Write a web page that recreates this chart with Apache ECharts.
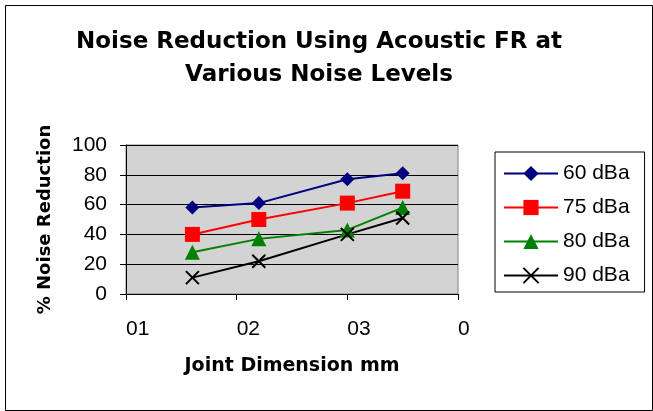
<!DOCTYPE html>
<html><head><meta charset="utf-8">
<script src="https://cdn.jsdelivr.net/npm/echarts@6/dist/echarts.min.js"></script>
<style>html,body{margin:0;padding:0;background:#fff}#c{width:653px;height:411px}</style>
</head><body><div id="c"></div>
<script>
const xTicks = [10, 20, 30, 40];
const xTickLabels = ["01", "02", "03", "0"];
const xValues = [16, 22, 30, 35];
const s60 = [58, 61, 77, 81];
const s75 = [40, 50, 61, 69];
const s80 = [28, 37, 43, 58];
const s90 = [11, 22, 40, 51];
const seriesNames = ["60 dBa", "75 dBa", "80 dBa", "90 dBa"];

const pair = arr => xValues.map((x, i) => [x, arr[i]]);
const crossPath = 'path://M0,0L10,10M10,0L0,10';

const chart = echarts.init(document.getElementById('c'));
chart.setOption({
  animation: false,
  backgroundColor: '#fff',
  title: {
    text: 'Noise Reduction Using Acoustic FR at\nVarious Noise Levels',
    left: 319, top: 26, padding: 0, textAlign: 'center',
    textStyle: { fontFamily: 'DejaVu Sans', fontWeight: 'bold', fontSize: 23, color: '#000', lineHeight: 33 }
  },
  graphic: [{
    type: 'rect', left: 3, top: 3, shape: { width: 647, height: 405 },
    style: { fill: 'none', stroke: '#000', lineWidth: 1 }, silent: true
  }],
  legend: {
    orient: 'vertical', left: 495, top: 152,
    padding: [11, 15, 6, 8],
    borderColor: '#000', borderWidth: 1,
    itemWidth: 54, itemHeight: 19, itemGap: 13,
    textStyle: { fontFamily: 'Liberation Sans', fontSize: 21, color: '#000' },
    data: seriesNames
  },
  grid: {
    left: 126, top: 145, width: 332, height: 149,
    show: true, backgroundColor: '#d3d3d3', borderColor: '#808080', borderWidth: 1
  },
  xAxis: {
    type: 'value', min: 10, max: 40, interval: 10,
    name: 'Joint Dimension mm', nameLocation: 'middle', nameGap: 63,
    nameTextStyle: { fontFamily: 'DejaVu Sans', fontWeight: 'bold', fontSize: 19, color: '#000' },
    axisLine: { lineStyle: { color: '#000', width: 1 } },
    axisTick: { show: true, length: 6, lineStyle: { color: '#000' } },
    axisLabel: {
      margin: 25, align: 'left', fontFamily: 'Liberation Sans', fontSize: 21, color: '#000',
      formatter: v => { const i = xTicks.indexOf(v); return i >= 0 ? xTickLabels[i] : ''; }
    },
    splitLine: { show: false }
  },
  yAxis: {
    type: 'value', min: 0, max: 100, interval: 20,
    name: '% Noise Reduction', nameLocation: 'middle', nameGap: 72,
    nameTextStyle: { fontFamily: 'DejaVu Sans', fontWeight: 'bold', fontSize: 18, color: '#000' },
    axisLine: { show: true, lineStyle: { color: '#000', width: 1 } },
    axisTick: { show: true, length: 6, lineStyle: { color: '#000' } },
    axisLabel: { margin: 19, fontFamily: 'Liberation Sans', fontSize: 21, color: '#000' },
    splitLine: { show: true, lineStyle: { color: '#000', width: 1 } }
  },
  series: [
    { name: seriesNames[0], type: 'line', data: pair(s60), symbol: 'diamond', symbolSize: 14,
      lineStyle: { color: '#000080', width: 2 }, itemStyle: { color: '#000080' } },
    { name: seriesNames[1], type: 'line', data: pair(s75), symbol: 'rect', symbolSize: 15,
      lineStyle: { color: '#ff0000', width: 2 }, itemStyle: { color: '#ff0000' } },
    { name: seriesNames[2], type: 'line', data: pair(s80), symbol: 'triangle', symbolSize: 15,
      lineStyle: { color: '#008000', width: 2 }, itemStyle: { color: '#008000' } },
    { name: seriesNames[3], type: 'line', data: pair(s90), symbol: crossPath, symbolSize: 13,
      lineStyle: { color: '#000', width: 2 }, itemStyle: { color: '#000', borderColor: '#000', borderWidth: 2 } }
  ]
});
</script></body></html>
